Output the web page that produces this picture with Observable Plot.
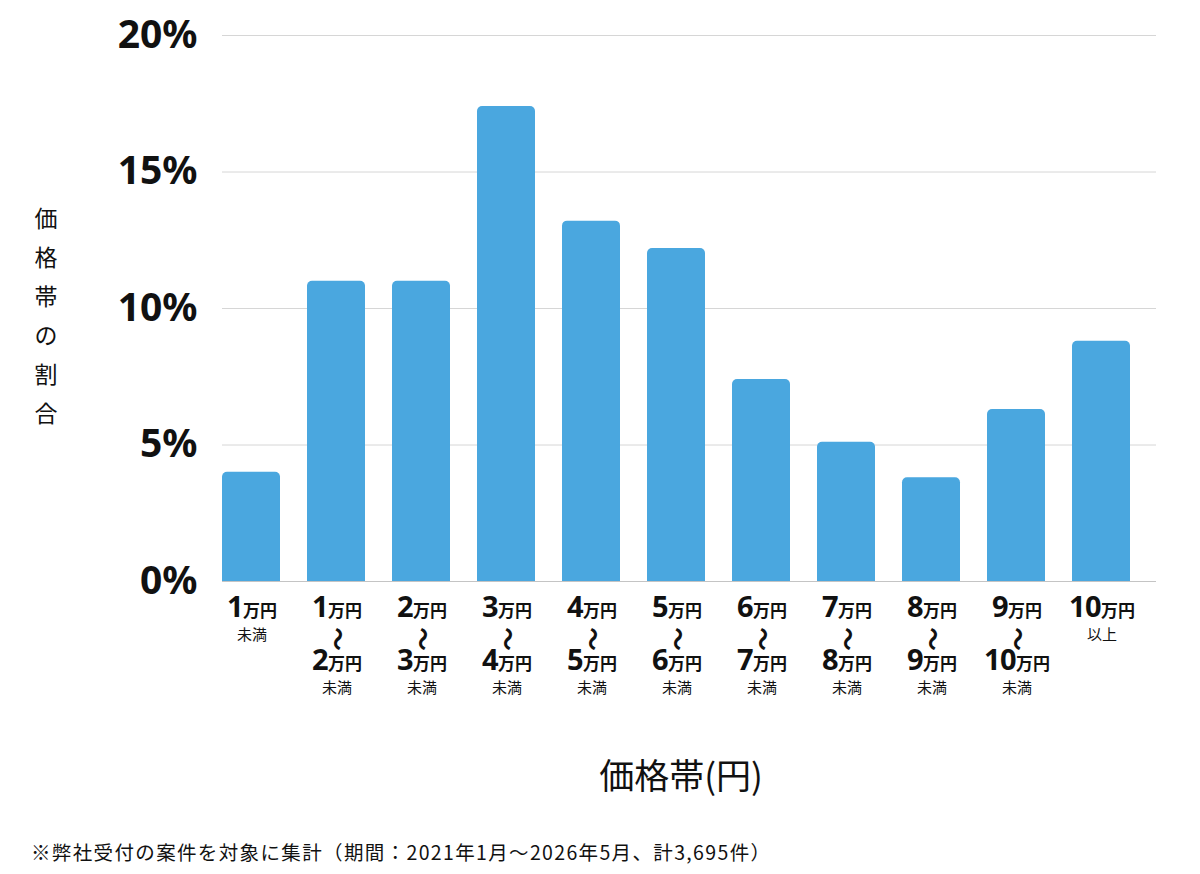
<!DOCTYPE html>
<html><head><meta charset="utf-8">
<script src="https://cdn.jsdelivr.net/npm/d3@7"></script>
<script src="https://cdn.jsdelivr.net/npm/@observablehq/plot@0.6"></script>
<style>body{margin:0;background:#fff;}</style>
</head><body><div id="chart"></div>
<script>
const categories = ["1万円未満","1万円〜2万円未満","2万円〜3万円未満","3万円〜4万円未満","4万円〜5万円未満","5万円〜6万円未満","6万円〜7万円未満","7万円〜8万円未満","8万円〜9万円未満","9万円〜10万円未満","10万円以上"];
const shares = [4.0, 11.0, 11.0, 17.4, 13.2, 12.2, 7.4, 5.1, 3.8, 6.3, 8.8];
const yTicks = [0, 5, 10, 15, 20];
const yTitle = "価格帯の割合";
const xTitle = "価格帯(円)";
const footnote = "※弊社受付の案件を対象に集計（期間：2021年1月〜2026年5月、計3,695件）";

const data = categories.map((c, i) => ({category: c, share: shares[i]}));
const FONT = "'Noto Sans','Noto Sans CJK JP',sans-serif";
const JFONT = "'Noto Sans CJK JP','Noto Sans',sans-serif";

const chart = Plot.plot({
  width: 1200, height: 874,
  marginLeft: 222, marginRight: 44, marginTop: 35, marginBottom: 293,
  style: {fontFamily: FONT, background: "#fff", color: "#111"},
  x: {domain: categories, paddingInner: 0.318, paddingOuter: 0.153, align: 0, axis: null},
  y: {domain: [0, 20], axis: null},
  marks: [
    Plot.gridY(yTicks, {stroke: "#d6d6d6", strokeOpacity: 1}),
    Plot.axisY(yTicks, {tickSize: 0, tickPadding: 25, tickFormat: d => d + "%", fontSize: 39, fontWeight: "bold", label: null, fill: "#111"}),
    Plot.barY(data, {x: "category", y: "share", fill: "#4aa7df", ry1: 5}),
    Plot.ruleY([0], {stroke: "#c4c4c4"})
  ]
});
document.getElementById("chart").appendChild(chart);

const xs = chart.scale("x");
const band = d3.scaleBand(xs.domain, xs.range).paddingInner(xs.paddingInner).paddingOuter(xs.paddingOuter).align(xs.align);
const svg = d3.select(chart);
const lab = svg.append("g").attr("text-anchor", "middle").attr("fill", "#111").attr("font-family", JFONT);

categories.forEach(c => {
  const m = c.match(/^(\d+)万円(?:〜(\d+)万円)?(未満|以上)$/);
  const cx = band(c) + band.bandwidth() / 2 + 1;
  const line = (num, y) => {
    const t = lab.append("text").attr("x", cx).attr("y", y).attr("font-weight", "bold");
    t.append("tspan").attr("font-size", 29).attr("font-family", FONT).attr("letter-spacing", -0.5).text(num);
    t.append("tspan").attr("font-size", 17).text("万円");
  };
  line(m[1], 617);
  if (m[2]) {
    lab.append("text").attr("transform", `translate(${cx},639) rotate(90)`).attr("dy", "0.35em")
      .attr("font-size", 24).attr("font-weight", "bold").text("〜");
    line(m[2], 670);
    lab.append("text").attr("x", cx).attr("y", 693).attr("font-size", 15).text(m[3]);
  } else {
    lab.append("text").attr("x", cx).attr("y", 640).attr("font-size", 15).text(m[3]);
  }
});

// y title (vertical)
const yt = svg.append("text").attr("text-anchor", "middle").attr("font-family", JFONT).attr("font-size", 23).attr("fill", "#111");
[...yTitle].forEach((ch, i) => yt.append("tspan").attr("x", 46).attr("y", 227 + i * 39).text(ch));

// x title
svg.append("text").attr("x", 681).attr("y", 789).attr("text-anchor", "middle").attr("font-family", JFONT)
  .attr("font-size", 35).attr("fill", "#111").text(xTitle);

// footnote
svg.append("text").attr("x", 31).attr("y", 860).attr("text-anchor", "start").attr("font-family", JFONT)
  .attr("font-size", 19.5).attr("textLength", 739).attr("lengthAdjust", "spacing").attr("fill", "#111").text(footnote);
</script>
</body></html>
